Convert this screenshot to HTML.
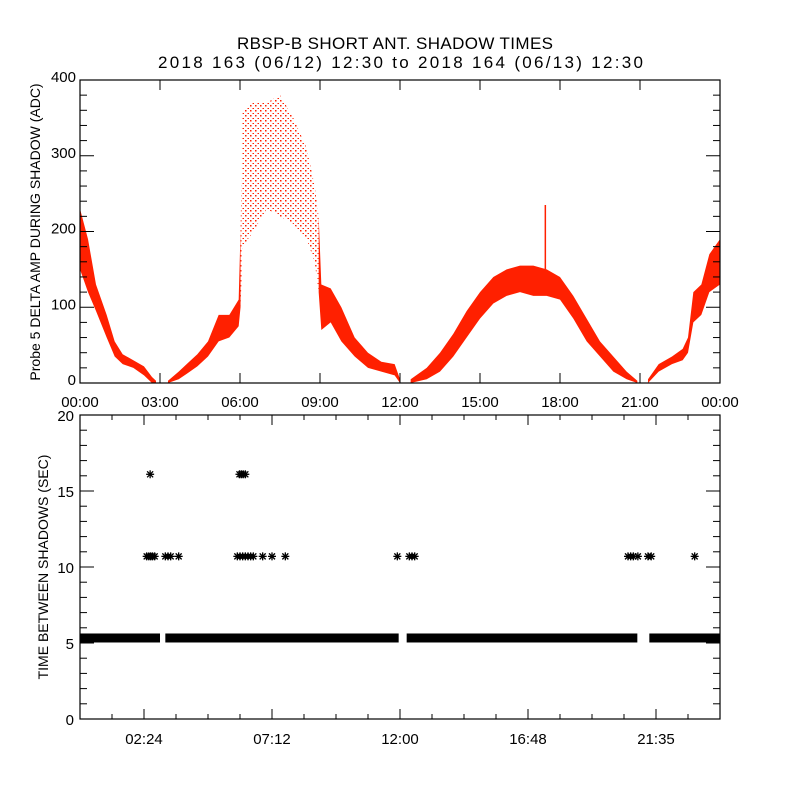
<!DOCTYPE html>
<html><head><meta charset="utf-8"><style>
html,body{margin:0;padding:0;background:#fff;}
svg{display:block;font-family:"Liberation Sans",sans-serif;}
</style></head><body>
<svg id="c" width="800" height="800" viewBox="0 0 800 800">
<defs>
<pattern id="sparse" width="5" height="5" patternUnits="userSpaceOnUse">
<rect x="0" y="0" width="1.5" height="1.5" fill="#ff2000"/>
<rect x="2.5" y="3" width="1.5" height="1" fill="#ff2000"/>
</pattern>
</defs>
<text x="237" y="49" textLength="316" lengthAdjust="spacing" font-size="17">RBSP-B SHORT ANT. SHADOW TIMES</text>
<text x="158" y="68" textLength="485" lengthAdjust="spacing" font-size="17">2018 163 (06/12) 12:30 to 2018 164 (06/13) 12:30</text>
<g id="top"></g>
<g id="bot"></g>
</svg>
<script>
// ---- top panel data: envelope segments [hour, low, high]
const seg1Hours=[0,0.3,0.6,1.0,1.3,1.6,2.0,2.4,2.7,2.85];
const seg1Low=[150,120,95,60,35,25,20,10,0,0];
const seg1High=[230,190,130,90,55,38,30,22,8,3];
const seg2Hours=[3.3,3.7,4.0,4.4,4.8,5.2,5.6,5.95,6.02];
const seg2Low=[0,5,12,22,35,55,60,75,100];
const seg2High=[3,15,25,38,55,90,90,110,200];
const peakHours=[6.02,6.1,6.5,7.0,7.5,8.0,8.5,8.8,8.95];
const peakLow=[100,180,200,230,220,210,190,160,120];
const peakHigh=[200,360,370,370,380,350,310,260,220];
const seg2bHours=[8.95,9.05,9.4,9.8,10.3,10.8,11.3,11.8,12.0];
const seg2bLow=[120,70,80,55,35,20,15,10,0];
const seg2bHigh=[220,130,125,100,60,40,28,25,5];
const seg3Hours=[12.4,13.0,13.5,14.0,14.5,15.0,15.5,16.0,16.5,17.0,17.5,18.0,18.5,19.0,19.5,20.0,20.5,20.9];
const seg3Low=[0,5,15,35,60,85,105,115,120,115,115,110,85,55,35,15,5,0];
const seg3High=[5,20,40,65,95,120,140,150,155,155,150,140,115,85,55,35,15,3];
const seg4Hours=[21.3,21.7,22.2,22.6,22.8,23.0,23.3,23.6,24.0];
const seg4Low=[0,15,25,30,40,80,90,120,130];
const seg4High=[5,25,35,45,60,120,130,170,190];
const spikeHour=17.45, spikeLow=150, spikeHigh=235;
const topYTicks=[0,100,200,300,400];
const topXLabels=["00:00","03:00","06:00","09:00","12:00","15:00","18:00","21:00","00:00"];
// ---- bottom panel data
const bandValue=5.33;
const bandGaps=[[3.0,3.2],[11.95,12.25],[20.9,21.35]];
const star16Hours=[2.63,5.98,6.05,6.12,6.2];
const star10Hours=[2.5,2.58,2.65,2.72,2.8,3.2,3.3,3.4,3.7,5.9,6.0,6.1,6.2,6.3,6.4,6.5,6.85,7.2,7.7,11.9,12.35,12.45,12.55,20.55,20.65,20.75,20.92,21.3,21.42,23.05];
const bandTicks=[7.3,7.4,7.55,8.3,8.45,8.9,9.05,22.3];
const botYTicks=[0,5,10,15,20];
const botXLabels=["02:24","07:12","12:00","16:48","21:35"];

const NS="http://www.w3.org/2000/svg";
const X0=80,X1=720;
const xs=h=>X0+h*(X1-X0)/24;
const tyTop=80,tyBot=383, yT=v=>tyBot-v*(tyBot-tyTop)/400;
const byTop=415,byBot=719, yB=v=>byBot-v*(byBot-byTop)/20;
function el(p,t,a){const e=document.createElementNS(NS,t);for(const k in a)e.setAttribute(k,a[k]);p.appendChild(e);return e;}
const topG=document.getElementById('top'), botG=document.getElementById('bot');

function band(hs,lo,hi,fill,name){
  let pts=hs.map((h,i)=>xs(h)+','+yT(hi[i]));
  for(let i=hs.length-1;i>=0;i--)pts.push(xs(hs[i])+','+yT(lo[i]));
  const p=el(topG,'polygon',{points:pts.join(' '),fill:fill});
  
  
}
band(seg1Hours,seg1Low,seg1High,'#ff2000','amp-band-1');
band(seg2Hours,seg2Low,seg2High,'#ff2000','amp-band-2');
band(peakHours,peakLow,peakHigh,'url(#sparse)','amp-band-peak');
band(seg2bHours,seg2bLow,seg2bHigh,'#ff2000','amp-band-3');
band(seg3Hours,seg3Low,seg3High,'#ff2000','amp-band-4');
band(seg4Hours,seg4Low,seg4High,'#ff2000','amp-band-5');
const sp=el(topG,'line',{x1:xs(spikeHour),x2:xs(spikeHour),y1:yT(spikeLow),y2:yT(spikeHigh),stroke:'#ff2000','stroke-width':1.5});



// top axes
const tf=el(topG,'rect',{x:X0,y:tyTop,width:X1-X0,height:tyBot-tyTop,fill:'none',stroke:'#000','stroke-width':1.2});


for(let v=0;v<=400;v+=20){
  const len=v%100===0?14:7;
  el(topG,'line',{x1:X0,x2:X0+len,y1:yT(v),y2:yT(v),stroke:'#000'});
  el(topG,'line',{x1:X1,x2:X1-len,y1:yT(v),y2:yT(v),stroke:'#000'});
}
topYTicks.forEach(v=>{const t=el(topG,'text',{x:X0-4,y:yT(v)+2,'text-anchor':'end','font-size':15});t.textContent=v;

});
topXLabels.forEach((s,i)=>{const h=i*3;
  el(topG,'line',{x1:xs(h),x2:xs(h),y1:tyBot,y2:tyBot-10,stroke:'#000'});
  el(topG,'line',{x1:xs(h),x2:xs(h),y1:tyTop,y2:tyTop+10,stroke:'#000'});
  const t=el(topG,'text',{x:xs(h),y:407,'text-anchor':'middle','font-size':15});t.textContent=s;
  
  });
const yt1=el(topG,'text',{x:0,y:0,transform:'translate(40,232) rotate(-90)','text-anchor':'middle','font-size':14});
yt1.textContent='Probe 5 DELTA AMP DURING SHADOW (ADC)';



// bottom panel
let start=0;
const segs=[];
bandGaps.forEach(g=>{segs.push([start,g[0]]);start=g[1];});segs.push([start,24]);
segs.forEach(s=>{const r=el(botG,'rect',{x:xs(s[0]),y:yB(bandValue)-4.5,width:xs(s[1])-xs(s[0]),height:9,fill:'#000'});

});
function star(h,v){
  const g=el(botG,'g',{stroke:'#000','stroke-width':1.3});
  
  
  const cx=xs(h),cy=yB(v),r=4;
  el(g,'line',{x1:cx-r,x2:cx+r,y1:cy,y2:cy});
  el(g,'line',{x1:cx,x2:cx,y1:cy-r,y2:cy+r});
  el(g,'line',{x1:cx-3,x2:cx+3,y1:cy-3,y2:cy+3});
  el(g,'line',{x1:cx-3,x2:cx+3,y1:cy+3,y2:cy-3});
}
star16Hours.forEach(h=>star(h,16.1));
star10Hours.forEach(h=>star(h,10.7));
bandTicks.forEach(h=>{star(h,bandValue);});
const bf=el(botG,'rect',{x:X0,y:byTop,width:X1-X0,height:byBot-byTop,fill:'none',stroke:'#000','stroke-width':1.2});


for(let v=0;v<=20;v+=1){
  const len=v%5===0?14:7;
  el(botG,'line',{x1:X0,x2:X0+len,y1:yB(v),y2:yB(v),stroke:'#000'});
  el(botG,'line',{x1:X1,x2:X1-len,y1:yB(v),y2:yB(v),stroke:'#000'});
}
botYTicks.forEach(v=>{const t=el(botG,'text',{x:X0-6,y:yB(v)+6,'text-anchor':'end','font-size':15});t.textContent=v;

});
for(let i=1;i<20;i++){const h=i*1.2;const len=i%4===2?10:5;
  el(botG,'line',{x1:xs(h),x2:xs(h),y1:byBot,y2:byBot-len,stroke:'#000'});
  el(botG,'line',{x1:xs(h),x2:xs(h),y1:byTop,y2:byTop+len,stroke:'#000'});}
botXLabels.forEach((s,i)=>{const h=2.4+i*4.8;
  const t=el(botG,'text',{x:xs(h),y:744,'text-anchor':'middle','font-size':15});t.textContent=s;
  
  });
const yt2=el(botG,'text',{x:0,y:0,transform:'translate(48,567) rotate(-90)','text-anchor':'middle','font-size':14});
yt2.textContent='TIME BETWEEN SHADOWS (SEC)';


</script>
</body></html>
